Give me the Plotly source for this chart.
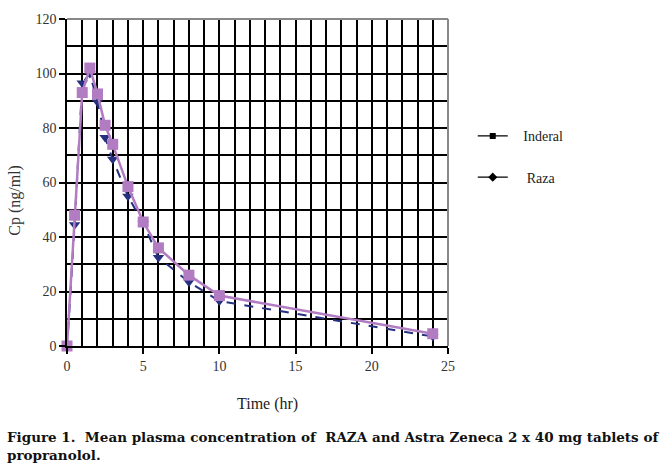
import plotly.graph_objects as go

time_hr = [0, 0.5, 1, 1.5, 2, 2.5, 3, 4, 5, 6, 8, 10, 24]
inderal = [0, 48, 93, 102, 92.5, 81, 74, 58.5, 45.5, 36, 26, 18.5, 4.5]
raza = [-1, 44.5, 96.5, 100, 89.5, 76.5, 68.5, 55, 45, 32.5, 23.5, 16.5, 3.5]

x_ticks = [0, 5, 10, 15, 20, 25]
y_ticks = [0, 20, 40, 60, 80, 100, 120]

SERIF = "Liberation Serif"
raza_col = "#26307f"
ind_col = "#b27cc2"

fig = go.Figure()
fig.add_trace(go.Scatter(
    x=time_hr, y=raza, mode="lines+markers", showlegend=False,
    line=dict(color=raza_col, width=2, dash="dash"),
    marker=dict(symbol="triangle-down", size=10, color=raza_col),
    cliponaxis=False))
fig.add_trace(go.Scatter(
    x=time_hr, y=inderal, mode="lines+markers", showlegend=False,
    line=dict(color=ind_col, width=2.5),
    marker=dict(symbol="square", size=11, color=ind_col),
    cliponaxis=False))
# legend entries (black, as in the original figure)
fig.add_trace(go.Scatter(
    x=[None], y=[None], mode="lines+markers", name="\u00a0\u00a0\u00a0Inderal", legendgroup="a",
    line=dict(color="black", width=1.2),
    marker=dict(symbol="square", size=6, color="black")))
fig.add_trace(go.Scatter(
    x=[None], y=[None], mode="lines+markers", name="\u00a0\u00a0\u00a0\u00a0Raza", legendgroup="b",
    line=dict(color="black", width=1.2),
    marker=dict(symbol="diamond", size=7, color="black")))

fig.update_layout(
    width=665, height=468,
    margin=dict(l=66.5, r=217, t=12, b=122),
    plot_bgcolor="white", paper_bgcolor="white",
    font=dict(family=SERIF, size=13, color="#222"),
    showlegend=True,
    legend=dict(x=1.065, y=0.69, xanchor="left", yanchor="top",
                traceorder="grouped", tracegroupgap=20,
                font=dict(family=SERIF, size=14, color="#222"),
                bgcolor="rgba(0,0,0,0)", itemwidth=30),
    xaxis=dict(range=[0, 25], tickvals=x_ticks, showgrid=False,
               ticks="outside", ticklen=6, tickcolor="black", tickwidth=1.5,
               showline=True, linecolor="black", linewidth=1.5,
               mirror=False, zeroline=False,
               tickfont=dict(family=SERIF, size=14, color="#333"),
               minor=dict(dtick=1, showgrid=True, gridcolor="black", gridwidth=1.5)),
    yaxis=dict(range=[0, 120], tickvals=y_ticks, showgrid=True, gridcolor="black", gridwidth=1.5,
               ticks="outside", ticklen=6, tickcolor="black", tickwidth=1.5,
               showline=True, linecolor="black", linewidth=1.5,
               zeroline=False,
               tickfont=dict(family=SERIF, size=14, color="#333"),
               minor=dict(dtick=10, showgrid=True, gridcolor="black", gridwidth=1.5)),
)
# top and right gray frame
fig.add_shape(type="line", xref="paper", yref="paper", x0=0, x1=1, y0=1, y1=1,
              line=dict(color="#888", width=2))
fig.add_shape(type="line", xref="paper", yref="paper", x0=1, x1=1, y0=0, y1=1,
              line=dict(color="#888", width=2))

fig.add_annotation(text="Cp (ng/ml)", textangle=-90, xref="paper", yref="paper",
                   x=-0.135, y=0.446, showarrow=False, xanchor="center", yanchor="middle",
                   font=dict(family=SERIF, size=16, color="#333"))
fig.add_annotation(text="Time (hr)", xref="paper", yref="paper",
                   x=0.526, y=-0.177, showarrow=False, xanchor="center", yanchor="middle",
                   font=dict(family=SERIF, size=16, color="#222"))
fig.add_annotation(
    text="<b>Figure 1.  Mean plasma concentration of  RAZA and Astra Zeneca 2 x 40 mg tablets of<br>propranolol.</b>",
    xref="paper", yref="paper", x=-0.164, y=-0.247, xanchor="left", yanchor="top",
    align="left", showarrow=False,
    font=dict(family="DejaVu Serif", size=13.5, color="#111"))

fig.write_html("out.html")
